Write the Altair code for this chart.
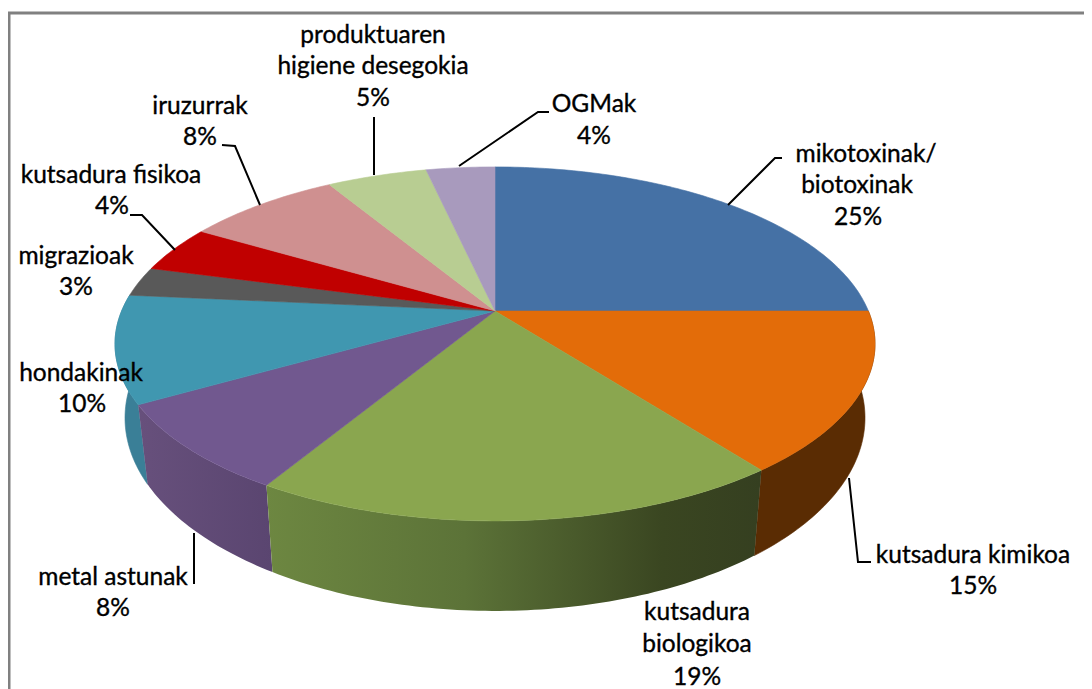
import math
import altair as alt
import pandas as pd

# ---- chart values ----
slices = ["mikotoxinak/biotoxinak", "kutsadura kimikoa", "kutsadura biologikoa", "metal astunak",
          "hondakinak", "migrazioak", "kutsadura fisikoa", "iruzurrak",
          "produktuaren higiene desegokia", "OGMak"]
shares = [25.0, 14.6, 19.0, 8.1, 9.8, 2.7, 4.3, 7.9, 5.1, 3.5]
top_colors = ["#4571a5", "#e36c09", "#8aa64f", "#71588f", "#4097b0",
              "#595959", "#c00000", "#cf9090", "#b8cd92", "#a89abd"]

label_text = ["mikotoxinak/", "biotoxinak", "25%", "kutsadura kimikoa", "15%", "kutsadura", "biologikoa", "19%",
              "metal astunak", "8%", "hondakinak", "10%", "migrazioak", "3%", "kutsadura fisikoa", "4%",
              "iruzurrak", "8%", "produktuaren", "higiene desegokia", "5%", "OGMak", "4%"]
label_x = [866, 857, 858, 973, 973, 697, 697, 697, 113, 113, 81, 82, 76, 76, 111, 112,
           200, 200, 373, 373, 373, 594, 594]
label_y = [155, 186, 218, 556, 587, 613, 645, 678, 578, 609, 374, 405, 257, 288, 176, 207,
           107, 138, 36, 67, 99, 105, 137]

leaders = {
    "miko": ([782, 775, 728], [158, 158, 205]),
    "kimi": ([849, 858, 871], [478, 562, 562]),
    "metal": ([194, 194], [533, 584]),
    "fisi": ([130, 142, 175], [215, 215, 250]),
    "iruz": ([222, 235, 260], [145, 146, 205]),
    "prod": ([374, 374], [117, 175]),
    "ogm": ([549, 538, 459], [112, 112, 166]),
}
frame_x = [9, 9, 1084]
frame_y = [689, 13, 13]

# ---- perspective of the pie ----
CX, APEX_Y = 495, 311
TOP_RX, TOP_RY, TOP_CY = 380, 177, 344
BOT_RX, BOT_RY, BOT_CY = 370, 193, 418
K = 0.186


def rim_param(turn):
    """Position on the (unit) rim ellipse for a share of the full circle, clockwise from 12 o'clock."""
    th = 2 * math.pi * turn
    u, v = math.sin(th), math.cos(th)
    d = 1 + K * v
    A, B = TOP_RX * math.sqrt(1 - K * K), TOP_RY * (1 - K * K)
    x = A * u / d
    y = APEX_Y - B * v / d
    return x / TOP_RX, (y - TOP_CY) / TOP_RY


def arc(start, end):
    n = max(4, int((end - start) * 4))
    return [rim_param((start + (end - start) * i / n) / 100) for i in range(n + 1)]


total = sum(shares)
norm = [s * 100 / total for s in shares]
starts = [sum(norm[:i]) for i in range(len(norm))]


def table(pts):
    return pd.DataFrame({"x": [p[0] for p in pts], "y": [p[1] for p in pts], "i": list(range(len(pts)))})


X = alt.Scale(domain=[8, 1084], nice=False, zero=False)
Y = alt.Scale(domain=[689, 8], nice=False, zero=False)


def enc(chart):
    return chart.encode(x=alt.X("x:Q", scale=X, axis=None), y=alt.Y("y:Q", scale=Y, axis=None), order="i:Q")


def poly(pts, fill):
    pts = pts + [pts[0]]
    stroke = fill if isinstance(fill, str) else None
    kw = {"stroke": stroke, "strokeWidth": 0.6} if stroke else {"strokeWidth": 0}
    return enc(alt.Chart(table(pts)).mark_line(fill=fill, clip=False, **kw))


def grad(stops):
    return alt.Gradient(gradient="linear", x1=0, y1=0, x2=1, y2=0,
                        stops=[alt.GradientStop(offset=o, color=c) for o, c in stops])


side_fill = {
    1: "#5a2c03",
    2: grad([(0, "#6d8741"), (0.4, "#5c7338"), (0.8, "#3a4621"), (1, "#353f20")]),
    3: grad([(0, "#67507c"), (1, "#5a4570")]),
    4: "#3a7f97",
}

layers = []
for idx in [4, 3, 1, 2]:
    rim = arc(starts[idx], starts[idx] + norm[idx])
    top = [(CX + TOP_RX * a, TOP_CY + TOP_RY * b) for a, b in rim]
    bot = [(CX + BOT_RX * a, BOT_CY + BOT_RY * b) for a, b in rim]
    layers.append(poly(top + bot[::-1], side_fill[idx]))

for idx, color in enumerate(top_colors):
    rim = arc(starts[idx], starts[idx] + norm[idx])
    top = [(CX + TOP_RX * a, TOP_CY + TOP_RY * b) for a, b in rim]
    layers.append(poly([(CX, APEX_Y)] + top, color))

for xs, ys in list(leaders.values()) + [(frame_x, frame_y)]:
    is_frame = xs is frame_x
    layers.append(enc(alt.Chart(table(list(zip(xs, ys)))).mark_line(
        color="#808080" if is_frame else "#000000", strokeWidth=3 if is_frame else 2, clip=False)))

labels = pd.DataFrame({"t": label_text, "x": label_x, "y": label_y})
layers.append(alt.Chart(labels).mark_text(font="Lato", fontSize=24.5, color="#000000", align="center",
                                          baseline="middle", stroke="#000000", strokeWidth=0.35).encode(
    x=alt.X("x:Q", scale=X, axis=None), y=alt.Y("y:Q", scale=Y, axis=None), text="t:N"))

chart = alt.layer(*layers).properties(
    width=1076, height=681, padding=0, autosize=alt.AutoSizeParams(type="none"),
    background="#ffffff").configure_view(stroke=None)

chart.save("out.html", embed_options={"renderer": "svg", "actions": False})
